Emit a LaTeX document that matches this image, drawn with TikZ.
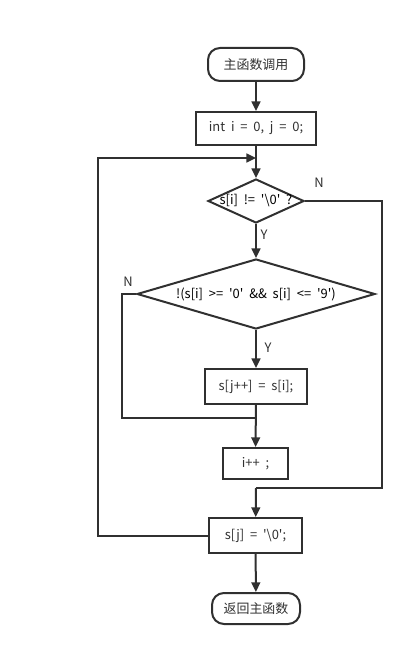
\documentclass[tikz,border=0pt]{standalone}
\usepackage{fontspec}
\setmainfont{Noto Sans CJK SC}[WordSpace=2]
\usetikzlibrary{arrows.meta,shapes.geometric,calc}
\tikzset{>={Triangle[length=3.4mm,width=3.1mm]}}
\definecolor{FlowDark}{HTML}{303030}
\colorlet{FlowLine}{FlowDark}
\colorlet{FlowText}{FlowDark}
\newcommand{\sq}{\textquotesingle}
\tikzset{
  FlowTerm/.style={draw=FlowLine, line width=2bp, rounded corners=12bp,
      inner sep=0pt, text=FlowText},
  FlowBox/.style={draw=FlowLine, line width=2bp, inner sep=0pt, text=FlowText},
  FlowTest/.style={diamond, draw=FlowLine, line width=2bp, inner sep=0pt},
  FlowEdge/.style={FlowLine, line width=2bp},
  FlowTag/.style={text=FlowText, inner sep=0pt}
}

\begin{document}
\begin{tikzpicture}[x=1bp, y=-1bp, font=\fontsize{13}{15}\selectfont]
  \useasboundingbox (0,0) rectangle (415,656);

  \node[FlowTerm, minimum width=96bp, minimum height=33bp] (start) at (256,64.5) {主函数调用};
  \node[FlowBox, minimum width=120bp, minimum height=33bp] (init) at (256,128.5) {int i = 0, j = 0;};
  \node[FlowTest, minimum width=96bp, minimum height=44bp,
      label={center:{s[i] != \sq\textbackslash0\sq\ ?}}] (notend) at (256,201) {};
  \node[FlowTest, minimum width=238bp, minimum height=70bp,
      label={center:{!(s[i] >= \sq0\sq\ \&\& s[i] <= \sq9\sq)}}] (notdigit) at (256,294) {};
  \node[FlowBox, minimum width=102bp, minimum height=35bp] (copy) at (256,386.5) {s[j++] = s[i];};
  \node[FlowBox, minimum width=65bp, minimum height=31bp] (step) at (255.5,463.5) {i++ ;};
  \node[FlowBox, minimum width=93bp, minimum height=35bp] (close) at (255.5,535.5) {s[j] = \sq\textbackslash0\sq;};
  \node[FlowTerm, minimum width=88bp, minimum height=31bp] (finish) at (256,608.5) {返回主函数};

  % corners of the loops
  \coordinate (LoopIn) at (256,158);
  \coordinate (BackL) at (98,535.5);
  \coordinate (SkipR) at (382,201);
  \coordinate (Join) at (256,488);
  \coordinate (NotL) at (122,294);
  \coordinate (Rejoin) at (256,418);

  \draw[FlowEdge, ->] (start) -- (init);
  \draw[FlowEdge, ->] (init) -- (notend);
  \draw[FlowEdge, ->] (notend) -- (notdigit);
  \draw[FlowEdge, ->] (notdigit) -- (copy);
  \draw[FlowEdge, ->] (copy) -- (step);
  \draw[FlowEdge] (notdigit.west) -- (NotL) |- (Rejoin);
  \draw[FlowEdge] (notend.east) -- (SkipR) |- (Join);
  \draw[FlowEdge, ->] (Join) -- (close);
  \draw[FlowEdge, ->] (close.west) -- (BackL) |- (LoopIn);
  \draw[FlowEdge, ->] (close) -- (finish);

  \node[FlowTag] (n1) at (319,183) {N};
  \node[FlowTag] (y1) at (264,235) {Y};
  \node[FlowTag] (n2) at (128,282) {N};
  \node[FlowTag] (y2) at (268,348) {Y};
\end{tikzpicture}
\end{document}
